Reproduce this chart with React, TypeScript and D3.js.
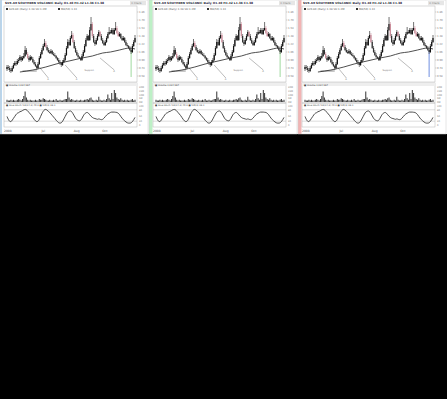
import React from "react";
import * as d3 from "d3";

const openP = [11,13,12,10,9,12,15,17,16,19, 20,23,20,22,24,30,26,22,20,23, 21,18,16,14,12,16,22,26,30,34, 37,33,30,28,27,29,26,25,24,22, 20,18,17,15,18,20,25,32,38,35, 42,45,38,32,28,25,23,22,20,24, 28,34,40,44,40,50,56,44,38,36, 40,44,48,44,40,37,35,38,42,46, 48,47,50,46,50,52,47,44,46,42, 40,42,38,35,34,32,30,28,34,38];
const closeP = [13,12,10,9,12,15,17,16,19,20, 23,20,22,24,30,26,22,20,23,21, 18,16,14,12,16,22,26,30,34,37, 33,30,28,27,29,26,25,24,22,20, 18,17,15,18,20,25,32,38,35,42, 45,38,32,28,25,23,22,20,24,28, 34,40,44,40,50,56,44,38,36,40, 44,48,44,40,37,35,38,42,46,48, 47,50,46,50,52,47,44,46,42,40, 42,38,35,34,32,30,28,34,38,42];
const highP = [15,15,14,12,14,17,19,19,21,22, 25,24,24,27,34,32,28,24,25,24, 23,20,18,15,18,24,28,32,36,41, 39,35,32,30,31,30,28,27,25,23, 22,20,18,20,22,27,34,41,40,44, 49,47,40,34,30,27,24,23,26,30, 36,42,46,45,53,63,58,46,40,42, 46,50,49,46,42,39,40,44,48,53, 50,52,52,52,58,54,49,48,47,44, 44,43,40,37,35,34,31,36,40,45];
const lowP = [9,10,8,7,8,11,14,14,15,17, 19,18,19,21,23,25,21,18,19,20, 17,15,13,10,11,15,21,25,29,33, 32,29,27,26,26,25,24,23,21,19, 17,15,13,14,17,19,24,31,34,34, 41,37,31,27,24,22,21,19,19,23, 27,33,39,39,39,49,42,37,34,35, 39,43,43,39,36,34,34,37,41,45, 46,46,45,45,49,46,43,43,41,39, 39,37,34,33,31,29,26,27,33,37];
// bars drawn in the pink highlight colour
const pinkBars = [16, 30, 51, 66, 72, 85, 86];
const maIndex = [10,20,30,38,48,58,66,74,80,87,95,99];
const maValue = [8,10,13,16,19,22,24,27,28,30,32,31];
const volume = [3,2,2,3,2,3,2,2,3,4, 3,2,4,8,14,6,3,2,3,2, 2,2,3,2,2,4,3,3,5,4, 3,2,2,3,2,2,3,2,4,2, 2,3,2,2,3,4,4,14,6,3, 4,3,2,2,3,2,2,3,2,2, 3,3,4,3,5,6,3,2,2,3, 2,7,3,2,2,3,2,4,10,5, 3,12,4,16,12,6,4,3,5,3, 2,3,2,3,2,2,3,4,2,3];
const stoch = [45,30,20,18,25,35,45,55,62,65, 70,72,76,80,82,80,74,66,58,50, 40,30,22,18,20,30,45,60,72,80, 82,78,72,66,58,50,42,34,25,18, 12,10,12,20,32,45,58,68,72,74, 70,60,48,36,28,24,22,25,35,48, 58,64,66,62,54,46,40,36,34,32, 30,32,30,28,30,36,44,52,58,62, 66,68,68,68,67,66,62,55,45,36, 28,22,16,12,10,10,12,18,28,40];
// trend annotations: [fromIndex, fromPrice, toIndex, toPrice]
const annotations = [[25,13,32,2],[45,15,54,2],[72,22,83,10]];
const supportLine = [12,23,9];
const markerBar = [96,30,3];
const priceTicks = [4,12,20,28,36,44,52,60,68];
const volTicks = [0,5,10,15,20];
const stochTicks = [0,20,50,80,100];
const dateLabels = ["2008","Jul","Aug","Oct"];
const dateIndex = [0,29,54,76];
const panelAccent = ["#b9d6ee","#bdf0c6","#f2b4b4"];
const markerColor = ["#9fd99f","#9fd99f","#6f8fe0"];

const N = closeP.length;
const PW = 148;

function Panel({ x0, idx }: { x0: number; idx: number }) {
  const xs = d3.scaleLinear().domain([0, N - 1]).range([7, 135]);
  const yP = d3.scaleLinear().domain([0, 68]).range([80, 12]);
  const yV = d3.scaleLinear().domain([0, 20]).range([102, 87]);
  const yS = d3.scaleLinear().domain([0, 100]).range([125, 106]);
  const ma = d3.line<number>().x((_, i) => xs(maIndex[i])).y((d) => yP(d)).curve(d3.curveMonotoneX)(maValue) || "";
  const st = d3.line<number>().x((_, i) => xs(i)).y((d) => yS(d)).curve(d3.curveMonotoneX)(stoch) || "";
  const ff = "DejaVu Sans, sans-serif";
  return (
    <g transform={`translate(${x0},0)`}>
      <rect x={0} y={0} width={PW} height={134} fill="#fff" />
      <rect x={0} y={0} width={idx === 0 ? 2 : 3.5} height={134} fill={panelAccent[idx]} />
      {/* title */}
      <text x={5} y={4.3} fontSize={2.9} fontFamily={ff} fill="#223" fontWeight="bold">
        SVX.AX SOUTHERN VOLCANIC Daily O1.40 H1.42 L1.36 C1.38
      </text>
      <rect x={130} y={1} width={16} height={4.2} fill="#e6e6e6" />
      <text x={131} y={4} fontSize={2.3} fontFamily={ff} fill="#777">© Charts</text>
      {/* price frame */}
      <rect x={4} y={6} width={133} height={76} fill="none" stroke="#b5b5b5" strokeWidth={0.5} />
      <rect x={6} y={8} width={2} height={2} fill="#333" />
      <text x={9} y={10} fontSize={2.6} fontFamily={ff} fill="#555">SVX.AX (Daily) 1.38 Vol 1.2M</text>
      <rect x={58} y={8} width={2} height={2} fill="#333" />
      <text x={61} y={10} fontSize={2.6} fontFamily={ff} fill="#555">MA(50) 1.13</text>
      {priceTicks.map((t) => (
        <g key={t}>
          <line x1={137} x2={138.5} y1={yP(t)} y2={yP(t)} stroke="#999" strokeWidth={0.4} />
          <text x={139} y={yP(t) + 1} fontSize={2.6} fontFamily={ff} fill="#777">{(0.5 + t * 0.02).toFixed(2)}</text>
        </g>
      ))}
      {/* annotations */}
      {annotations.map((a, i) => (
        <g key={i}>
          <line x1={xs(a[0])} y1={yP(a[1])} x2={xs(a[2])} y2={yP(a[3])} stroke="#666" strokeWidth={0.45} />
          <text x={xs(a[2]) - 1} y={yP(a[3]) + 2} fontSize={2.4} fontFamily={ff} fill="#777">A</text>
        </g>
      ))}
      <line x1={xs(supportLine[0])} x2={xs(supportLine[1])} y1={yP(supportLine[2])} y2={yP(supportLine[2])} stroke="#444" strokeWidth={0.6} />
      <text x={xs(60)} y={yP(9)} fontSize={2.4} fontFamily={ff} fill="#777">Support</text>
      <line x1={xs(markerBar[0])} x2={xs(markerBar[0])} y1={yP(markerBar[1])} y2={yP(markerBar[2])} stroke={markerColor[idx]} strokeWidth={1} />
      <path d={ma} fill="none" stroke="#222" strokeWidth={0.8} />
      {closeP.map((c, i) => {
        const o = openP[i];
        const up = c >= o;
        const col = pinkBars.includes(i) ? "#c98a98" : up ? "#111" : "#333";
        return (
          <g key={i}>
            <line x1={xs(i)} x2={xs(i)} y1={yP(highP[i])} y2={yP(lowP[i])} stroke={col} strokeWidth={0.6} />
            <rect x={xs(i) - 0.6} y={yP(Math.max(o, c))} width={1.2} height={Math.max(0.7, Math.abs(yP(o) - yP(c)))} fill={col} />
          </g>
        );
      })}
      {/* volume */}
      <rect x={4} y={83} width={133} height={20} fill="none" stroke="#b5b5b5" strokeWidth={0.5} />
      <rect x={4} y={83} width={133} height={3} fill="#eee" />
      <text x={6} y={85.6} fontSize={2.3} fontFamily={ff} fill="#444">■ Volume 1,234,567</text>
      {volTicks.map((t) => (
        <text key={t} x={139} y={yV(t) + 1} fontSize={2.3} fontFamily={ff} fill="#777">{t}M</text>
      ))}
      {volume.map((v, i) => (
        <rect key={i} x={xs(i) - 0.5} y={yV(v)} width={1} height={yV(0) - yV(v)} fill="#333" />
      ))}
      {/* stoch */}
      <rect x={4} y={103} width={133} height={24} fill="none" stroke="#b5b5b5" strokeWidth={0.5} />
      <text x={6} y={105.8} fontSize={2.3} fontFamily={ff} fill="#444">■ Slow Stoch %K(14,3) 40.2  ■ %D(3) 28.1</text>
      {[20, 80].map((t) => (
        <line key={t} x1={4} x2={137} y1={yS(t)} y2={yS(t)} stroke="#aaa" strokeWidth={0.4} />
      ))}
      {stochTicks.map((t) => (
        <text key={t} x={139} y={yS(t) + 1} fontSize={2.3} fontFamily={ff} fill="#777">{t}</text>
      ))}
      <path d={st} fill="none" stroke="#222" strokeWidth={0.8} />
      {/* dates */}
      {dateLabels.map((d, i) => (
        <text key={d} x={xs(dateIndex[i]) - 3} y={131.5} fontSize={3} fontFamily={ff} fill="#555">{d}</text>
      ))}
      <rect x={0} y={0} width={PW} height={134} fill="none" stroke="#ccc" strokeWidth={0.5} />
    </g>
  );
}

export default function App() {
  return (
    <svg width={447} height={399} style={{ position: "absolute", left: 0, top: 0, display: "block" }}>
      <rect x={0} y={0} width={447} height={399} fill="#000" />
      <rect x={0} y={0} width={447} height={134} fill="#fff" />
      {[0, 149, 298].map((x0, i) => (
        <Panel key={i} x0={x0} idx={i} />
      ))}
    </svg>
  );
}
